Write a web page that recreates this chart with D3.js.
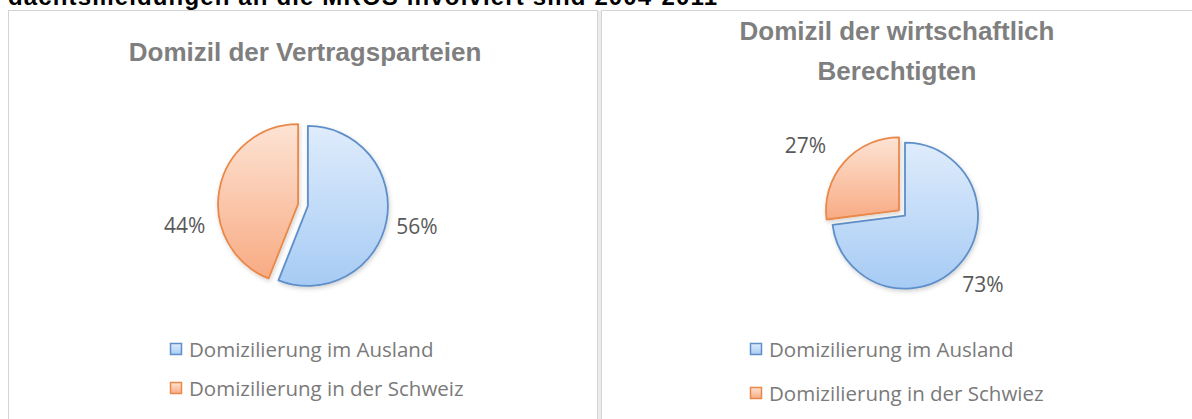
<!DOCTYPE html>
<html>
<head>
<meta charset="utf-8">
<script src="https://cdn.jsdelivr.net/npm/d3@7"></script>
<style>
  body { margin: 0; background: #fff; }
  svg { display: block; }
</style>
</head>
<body>
<svg width="1192" height="419"></svg>
<script>

var page_title = 'dachtsmeldungen an die MROS involviert sind 2004-2011'
var categories = ['Domizilierung im Ausland', 'Domizilierung in der Schweiz']
var legend_labels_right = ['Domizilierung im Ausland', 'Domizilierung in der Schwiez']
var vertragsparteien = [56, 44]
var berechtigte = [73, 27]
var title_left = ['Domizil der Vertragsparteien']
var title_right = ['Domizil der wirtschaftlich', 'Berechtigten']

var svg = d3.select('svg')
var defs = svg.append('defs')

// gradients like the office pie fills
function gradient (id, top, bottom) {
  var g = defs.append('linearGradient')
    .attr('id', id)
    .attr('x1', 0).attr('y1', 0).attr('x2', 0).attr('y2', 1)
  g.append('stop').attr('offset', '0%').attr('stop-color', top)
  g.append('stop').attr('offset', '100%').attr('stop-color', bottom)
}
gradient('blue', '#dfecfc', '#a6cbf4')
gradient('orange', '#fde3d4', '#f8ab83')

var shadow = defs.append('filter').attr('id', 'shadow')
  .attr('x', '-20%').attr('y', '-20%').attr('width', '140%').attr('height', '140%')
shadow.append('feDropShadow')
  .attr('dx', 1).attr('dy', 2).attr('stdDeviation', 2)
  .attr('flood-color', '#000').attr('flood-opacity', 0.18)

var fills = ['url(#blue)', 'url(#orange)']
var strokes = ['#5f8fc8', '#e9884a']

// page heading, cut off at the top like in the source
svg.append('text')
  .attr('x', 8).attr('y', 5)
  .attr('font-family', 'Liberation Sans, Arial, sans-serif')
  .attr('font-weight', 'bold')
  .attr('font-size', 24)
  .attr('textLength', 709)
  .attr('fill', '#000')
  .text(page_title)

// panel frames
svg.append('rect')
  .attr('x', 8.5).attr('y', 10.5).attr('width', 589).attr('height', 420)
  .attr('fill', 'none').attr('stroke', '#d4d4d4')
svg.append('rect')
  .attr('x', 601.5).attr('y', 10.5).attr('width', 600).attr('height', 420)
  .attr('fill', 'none').attr('stroke', '#d4d4d4')
svg.append('rect')
  .attr('x', 598).attr('y', 11).attr('width', 3).attr('height', 420)
  .attr('fill', '#ececec')

function draw_chart (cfg) {
  var g = svg.append('g')

  g.selectAll('.title')
    .data(cfg.title)
    .enter()
      .append('text')
      .attr('class', 'title')
      .attr('x', cfg.cx)
      .attr('y', (d, i) => cfg.title_y + i * cfg.title_step)
      .attr('text-anchor', 'middle')
      .attr('font-family', 'Liberation Sans, Arial, sans-serif')
      .attr('font-weight', 'bold')
      .attr('font-size', 26)
      .attr('fill', '#7f7f7f')
      .text((d) => d)

  var pie = d3.pie().sort(null).value((d) => d)
  var arcs = pie(cfg.values)
  var arc = d3.arc().innerRadius(0).outerRadius(cfg.r)

  var pie_g = g.append('g')
    .attr('transform', 'translate(' + cfg.cx_pie + ',' + cfg.cy + ')')

  pie_g.selectAll('path')
    .data(arcs)
    .enter()
      .append('path')
      .attr('transform', (d) => {
        var mid = (d.startAngle + d.endAngle) / 2
        return 'translate(' + (Math.sin(mid) * cfg.explode) + ',' + (-Math.cos(mid) * cfg.explode) + ')'
      })
      .attr('d', arc)
      .attr('fill', (d, i) => fills[i])
      .attr('stroke', (d, i) => strokes[i])
      .attr('stroke-width', 1.8)
      .attr('stroke-linejoin', 'round')
      .attr('filter', 'url(#shadow)')

  pie_g.selectAll('.pct')
    .data(arcs)
    .enter()
      .append('text')
      .attr('class', 'pct')
      .attr('x', (d, i) => Math.sin((d.startAngle + d.endAngle) / 2 + cfg.label_shift[i]) * cfg.label_r[i])
      .attr('y', (d, i) => -Math.cos((d.startAngle + d.endAngle) / 2 + cfg.label_shift[i]) * cfg.label_r[i])
      .attr('dy', '0.35em')
      .attr('text-anchor', 'middle')
      .attr('font-family', 'Open Sans, sans-serif')
      .attr('font-size', 21)
      .attr('fill', '#595959')
      .text((d) => d.data + '%')

  var legend = g.selectAll('.legend')
    .data(cfg.legend)
    .enter()
      .append('g')
      .attr('class', 'legend')
      .attr('transform', (d, i) => 'translate(' + cfg.legend_x + ',' + cfg.legend_y[i] + ')')

  legend.append('rect')
    .attr('x', 0.5).attr('y', -13.5).attr('width', 11).attr('height', 11)
    .attr('fill', (d, i) => fills[i])
    .attr('stroke', (d, i) => strokes[i])
    .attr('stroke-width', 1.5)

  legend.append('text')
    .attr('x', 19).attr('y', 0)
    .attr('font-family', 'Open Sans, sans-serif')
    .attr('font-size', 20.5)
    .attr('fill', '#7a7a7a')
    .text((d) => d)
}

draw_chart({
  title: title_left, title_y: 61, title_step: 0, cx: 305,
  values: vertragsparteien, cx_pie: 303, cy: 205, r: 80, explode: 5,
  label_r: [116, 120], label_shift: [0, -0.36],
  legend: categories, legend_x: 170, legend_y: [357, 396]
})

draw_chart({
  title: title_right, title_y: 40, title_step: 40, cx: 897,
  values: berechtigte, cx_pie: 902, cy: 213, r: 73, explode: 4,
  label_r: [108, 118], label_shift: [0, -0.11],
  legend: legend_labels_right, legend_x: 750, legend_y: [357, 401]
})

</script>
</body>
</html>
